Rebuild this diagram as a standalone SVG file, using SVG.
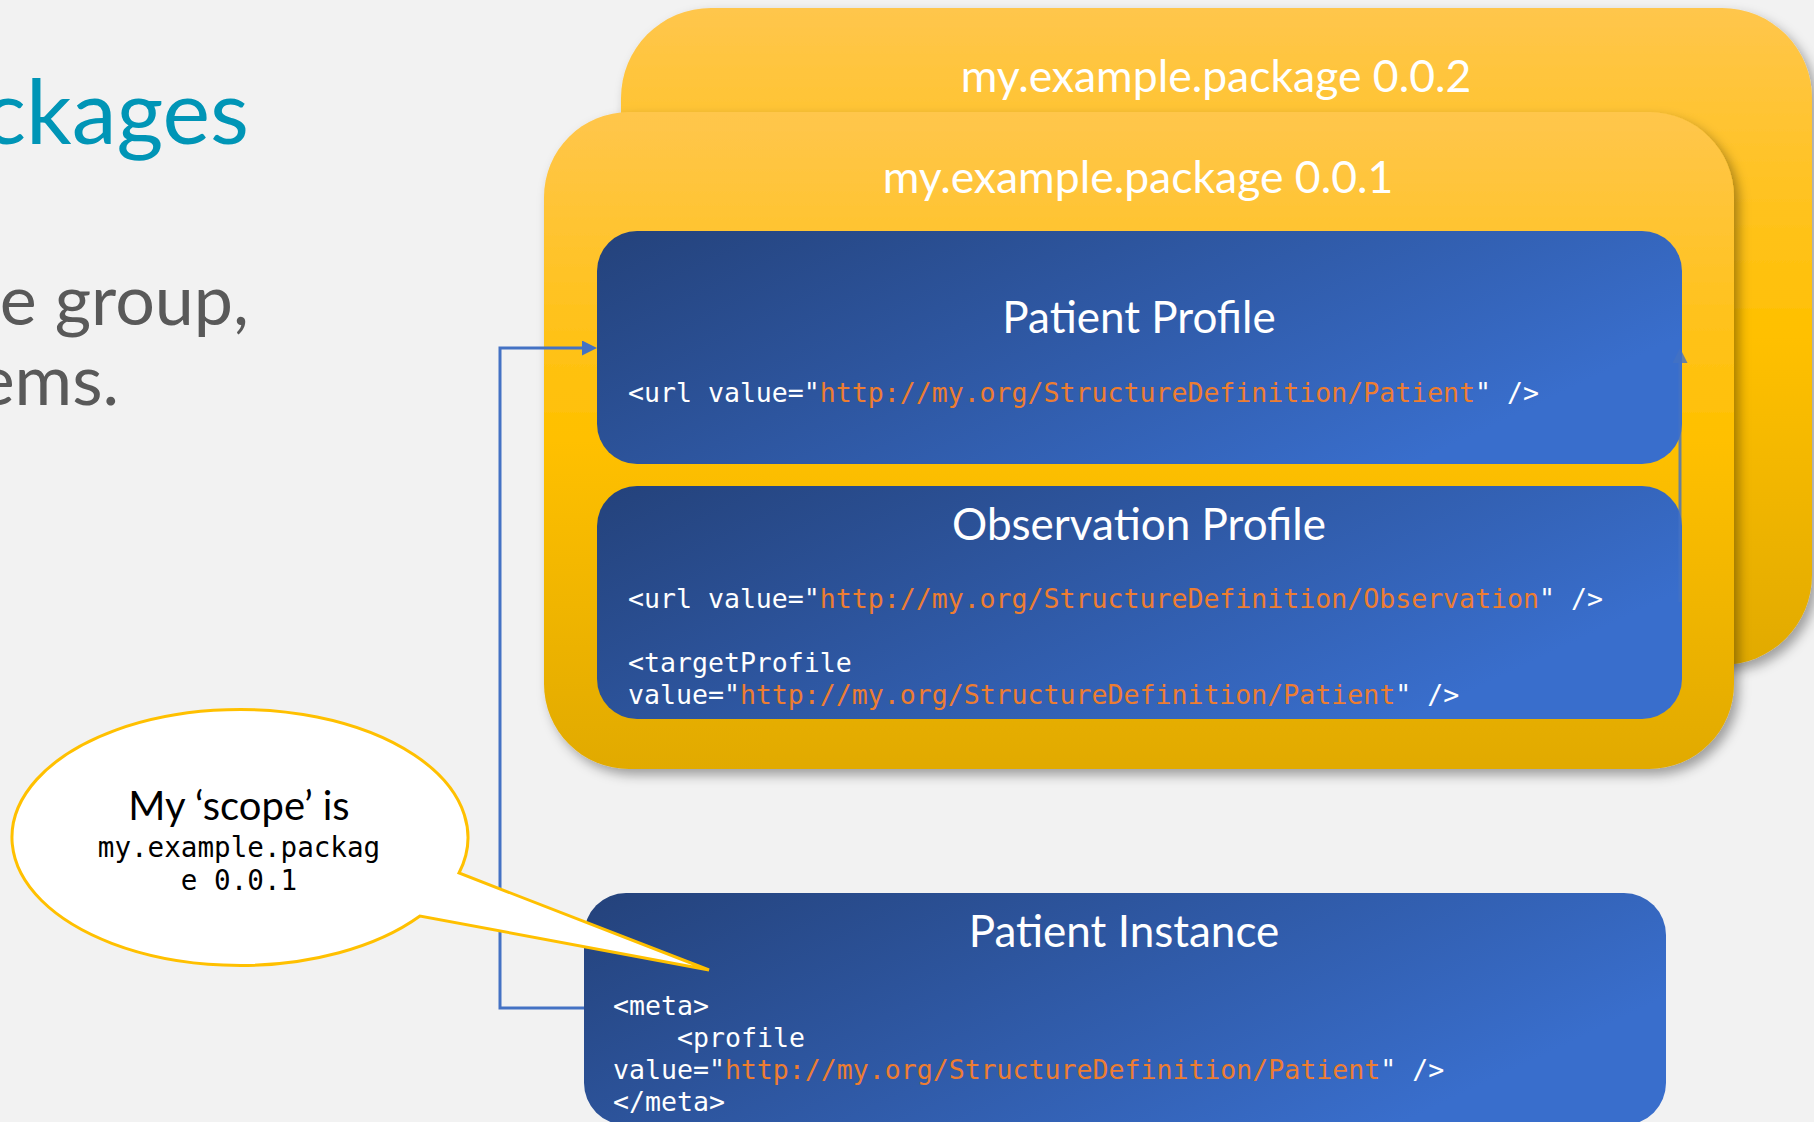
<svg xmlns="http://www.w3.org/2000/svg" width="1814" height="1122" viewBox="0 0 1814 1122">
<defs>
<linearGradient id="gold" x1="0" y1="0" x2="0" y2="1">
<stop offset="0" stop-color="#FFC64C"/>
<stop offset="0.5" stop-color="#FFC000"/>
<stop offset="1" stop-color="#E1AA00"/>
</linearGradient>
<linearGradient id="blue" x1="0" y1="0" x2="1" y2="0.45">
<stop offset="0" stop-color="#24427B"/>
<stop offset="1" stop-color="#396ECC"/>
</linearGradient>
<filter id="shadow" x="-5%" y="-5%" width="115%" height="120%">
<feDropShadow dx="5" dy="6" stdDeviation="6" flood-color="#000" flood-opacity="0.35"/>
</filter>
<marker id="arrow" markerUnits="userSpaceOnUse" viewBox="0 0 15 15" refX="0" refY="7.5" markerWidth="15" markerHeight="15" orient="auto">
<path d="M0,0 L15,7.5 L0,15 Z" fill="#4472C4"/>
</marker>
<style>
.pkg{fill:url(#gold);filter:url(#shadow)}
.box{fill:url(#blue)}
.sans{font-family:Lato,"Liberation Sans",sans-serif}
.mono{font-family:"DejaVu Sans Mono","Liberation Mono",monospace;font-size:26.55px;fill:#FFFFFF}
.url{fill:#ED7D31}
.head{font-size:44px;fill:#FFFFFF;text-anchor:middle}
.pkgt{font-size:44.5px;fill:#FFFFFF;text-anchor:middle}
.conn{fill:none;stroke:#4472C4;stroke-width:3}
</style>
</defs>
<rect width="1814" height="1122" fill="#F2F2F2"/>

<g id="slide-text" class="sans">
<text x="249" y="144" font-size="90" fill="#0095B6" text-anchor="end">ckages</text>
<text x="249" y="325" font-size="70" fill="#595959" text-anchor="end">e group,</text>
<text x="119" y="405" font-size="70" fill="#595959" text-anchor="end">ems.</text>
</g>

<g id="package-002">
<rect class="pkg" x="621" y="8" width="1191" height="657" rx="90" ry="90"/>
<text class="sans pkgt" x="1216" y="92">my.example.package 0.0.2</text>
</g>

<g id="package-001">
<rect class="pkg" x="544" y="112" width="1190" height="657" rx="85" ry="85"/>
<text class="sans pkgt" x="1138" y="193">my.example.package 0.0.1</text>
</g>

<g id="patient-profile">
<rect class="box" x="597" y="231" width="1085" height="233" rx="40" ry="40"/>
<text class="sans head" x="1139" y="333">Patient Profile</text>
<text class="mono" x="628" y="402">&lt;url value="<tspan class="url">http://my.org/StructureDefinition/Patient</tspan>" /&gt;</text>
</g>

<g id="observation-profile">
<rect class="box" x="597" y="486" width="1085" height="233" rx="40" ry="40"/>
<text class="sans head" x="1139" y="540">Observation Profile</text>
<text class="mono" x="628" y="608">&lt;url value="<tspan class="url">http://my.org/StructureDefinition/Observation</tspan>" /&gt;</text>
<text class="mono" x="628" y="672">&lt;targetProfile</text>
<text class="mono" x="628" y="704">value="<tspan class="url">http://my.org/StructureDefinition/Patient</tspan>" /&gt;</text>
</g>

<g id="patient-instance">
<rect class="box" x="584" y="893" width="1082" height="232" rx="42" ry="42"/>
<text class="sans head" x="1124" y="947">Patient Instance</text>
<text class="mono" x="613" y="1015">&lt;meta&gt;</text>
<text class="mono" x="677" y="1047">&lt;profile</text>
<text class="mono" x="613" y="1079">value="<tspan class="url">http://my.org/StructureDefinition/Patient</tspan>" /&gt;</text>
<text class="mono" x="613" y="1111">&lt;/meta&gt;</text>
</g>

<g id="connectors">
<path class="conn" d="M584,1008 H500 V348 H582" marker-end="url(#arrow)"/>
<path class="conn" d="M1680,602 V363" marker-end="url(#arrow)" opacity="0.8"/>
</g>

<g id="callout">
<path d="M459,873 A228,128 0 1 0 420,916 L709,970 Z" fill="#FFFFFF" stroke="#FFC000" stroke-width="3" stroke-linejoin="miter"/>
<text class="sans" x="239" y="820" font-size="40" fill="#000000" text-anchor="middle">My ‘scope’ is</text>
<text x="239" y="857" font-family="DejaVu Sans Mono,Liberation Mono,monospace" font-size="27.6" fill="#000000" text-anchor="middle">my.example.packag</text>
<text x="239" y="890" font-family="DejaVu Sans Mono,Liberation Mono,monospace" font-size="27.6" fill="#000000" text-anchor="middle">e 0.0.1</text>
</g>
</svg>
